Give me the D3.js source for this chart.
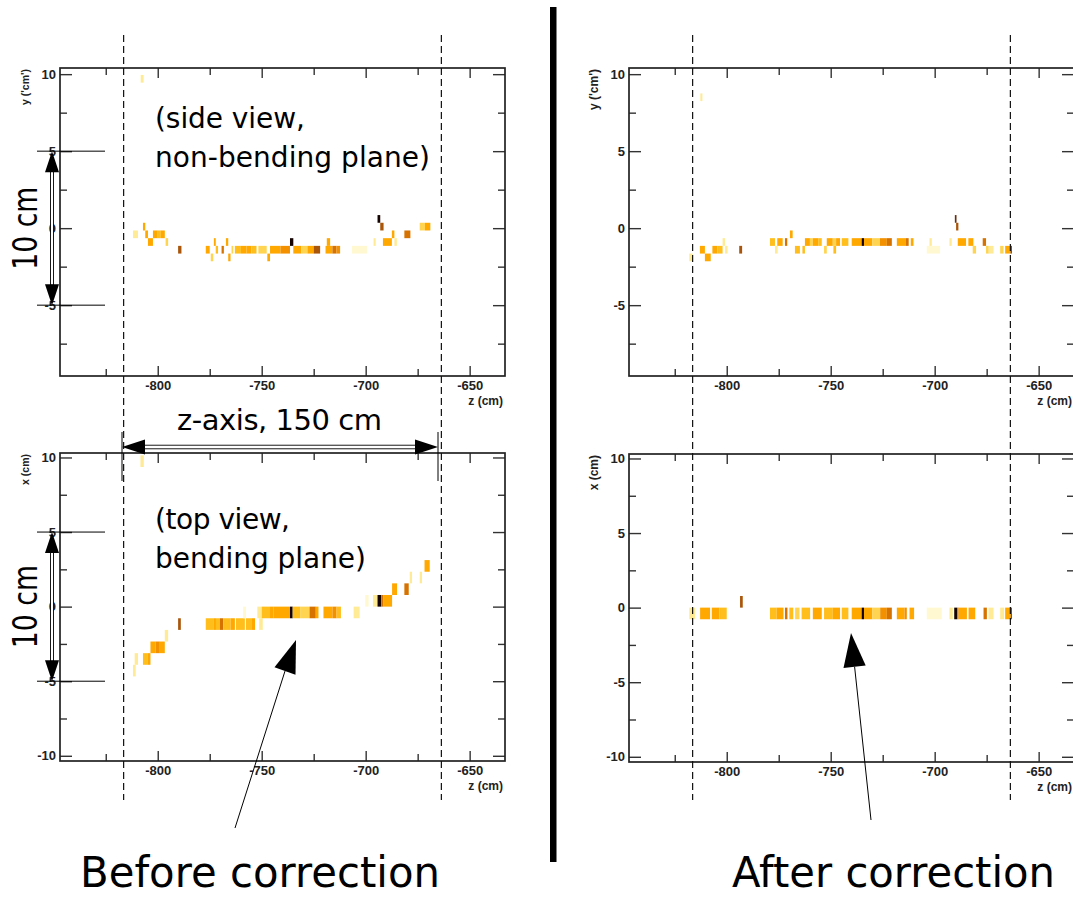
<!DOCTYPE html>
<html>
<head>
<meta charset="utf-8">
<script src="https://cdn.jsdelivr.net/npm/d3@7"></script>
<style>
body { margin: 0; background: #fff; }
svg { display: block; }
</style>
</head>
<body>
<script>
// hit cells: [z start, z end, y (or x) bin centre, charge level 1..10]
var sideBefore = [
  [-808.2, -806.8, 9.7, 2],
  [-811.9, -809.5, -0.4, 2], [-807.1, -806.0, 0.1, 5], [-806.0, -804.7, -0.4, 5],
  [-804.7, -802.3, -0.9, 5], [-802.3, -800.0, -0.4, 5], [-800.0, -798.5, -0.4, 4],
  [-798.5, -796.6, -0.4, 5], [-796.2, -795.0, -0.9, 3], [-790.2, -788.6, -1.4, 8],
  [-776.9, -775.0, -1.4, 5], [-774.5, -773.3, -1.9, 3], [-773.0, -772.1, -0.9, 5],
  [-772.1, -771.0, -1.4, 4], [-769.3, -768.2, -1.4, 7], [-767.2, -766.1, -0.9, 5],
  [-766.1, -765.0, -1.9, 5], [-764.5, -763.7, -1.4, 3], [-762.9, -760.0, -1.4, 4],
  [-760.0, -757.3, -1.4, 5], [-757.3, -755.0, -1.4, 5], [-755.0, -752.5, -1.4, 4],
  [-751.6, -747.6, -1.4, 3], [-747.3, -746.0, -1.9, 5], [-746.0, -741.0, -1.4, 5],
  [-741.0, -736.4, -1.4, 6], [-736.4, -734.8, -0.9, 10], [-734.8, -731.0, -1.4, 5],
  [-731.0, -728.0, -1.4, 3], [-728.0, -725.0, -1.4, 5], [-725.0, -721.9, -1.4, 8],
  [-718.7, -717.1, -0.9, 5], [-719.3, -716.0, -1.4, 5], [-716.0, -714.0, -1.4, 7],
  [-714.0, -712.3, -1.4, 6], [-706.6, -699.4, -1.4, 1], [-696.2, -695.2, -0.9, 2],
  [-694.3, -693.0, 0.6, 10], [-693.0, -691.4, 0.1, 8], [-691.7, -687.4, -0.9, 5],
  [-687.4, -686.2, -0.4, 5], [-686.2, -685.0, -0.9, 2], [-681.4, -678.5, -0.4, 7],
  [-674.0, -671.5, 0.1, 3], [-671.5, -668.9, 0.1, 5]
];

var sideAfter = [
  [-812.7, -811.7, 8.5, 2],
  [-818.0, -816.4, -1.9, 2], [-810.5, -807.7, -1.9, 5], [-812.9, -810.5, -1.4, 5],
  [-806.9, -804.5, -1.4, 5], [-804.5, -802.0, -1.4, 4], [-802.0, -800.8, -0.9, 2],
  [-800.8, -799.6, -1.4, 2], [-794.0, -792.6, -1.4, 8], [-779.2, -776.8, -0.9, 4],
  [-776.8, -775.5, -1.4, 2], [-775.7, -773.1, -0.9, 5], [-772.0, -770.9, -0.9, 7],
  [-769.6, -768.3, -0.4, 5], [-767.2, -764.8, -1.4, 4], [-763.6, -762.4, -1.4, 4],
  [-762.4, -760.0, -0.9, 5], [-760.0, -758.6, -0.9, 3], [-758.6, -756.0, -0.9, 5],
  [-756.0, -754.3, -0.9, 4], [-753.2, -751.9, -1.4, 3], [-751.9, -749.0, -0.9, 5],
  [-749.0, -747.4, -0.9, 3], [-748.7, -747.4, -1.4, 4], [-747.4, -745.5, -0.9, 5],
  [-744.7, -741.5, -0.9, 4], [-739.9, -735.1, -0.9, 5], [-735.1, -734.0, -0.9, 10],
  [-734.0, -730.0, -0.9, 5], [-730.0, -726.3, -0.9, 3], [-726.3, -723.0, -0.9, 6],
  [-723.0, -720.6, -0.9, 7], [-718.2, -714.0, -0.9, 5], [-714.0, -712.5, -0.9, 7],
  [-711.5, -710.2, -0.9, 5], [-703.8, -697.4, -1.4, 1], [-702.5, -701.4, -0.9, 2],
  [-692.9, -691.8, -0.9, 2], [-690.3, -689.5, 0.6, 9], [-689.7, -688.6, 0.1, 8],
  [-688.9, -684.9, -0.9, 5], [-683.8, -681.4, -0.9, 5], [-681.7, -680.1, -1.4, 3],
  [-676.9, -675.3, -0.9, 7], [-675.3, -674.0, -1.4, 3], [-674.0, -671.7, -1.4, 2],
  [-668.5, -666.9, -1.4, 3], [-666.1, -663.5, -1.4, 5], [-663.5, -662.9, -1.4, 9]
];

var topBefore = [
  [-808.3, -806.7, 9.75, 2],
  [-811.9, -810.6, -4.29, 2], [-811.1, -809.5, -3.51, 2], [-807.1, -805.0, -3.51, 4],
  [-805.0, -803.5, -3.51, 5], [-803.5, -801.0, -2.73, 5], [-801.0, -799.0, -2.73, 6],
  [-799.0, -796.6, -2.73, 5], [-796.6, -795.0, -1.95, 2], [-790.2, -788.9, -1.17, 8],
  [-776.9, -773.0, -1.17, 4], [-773.0, -772.0, -1.17, 5], [-772.0, -770.1, -1.17, 4],
  [-770.1, -768.5, -1.17, 7], [-768.5, -765.0, -1.17, 4], [-765.0, -762.9, -1.17, 5],
  [-762.4, -758.1, -1.17, 4], [-757.6, -755.0, -1.17, 4], [-755.0, -753.2, -1.17, 5],
  [-751.2, -749.5, -1.17, 2], [-758.9, -757.6, -0.39, 1], [-752.1, -750.0, -0.39, 2],
  [-750.0, -746.0, -0.39, 4], [-746.0, -744.4, -0.39, 5], [-744.4, -736.4, -0.39, 5],
  [-736.4, -735.1, -0.39, 10], [-735.1, -731.5, -0.39, 4], [-731.5, -727.0, -0.39, 3],
  [-727.0, -724.0, -0.39, 7], [-724.0, -722.7, -0.39, 5], [-720.3, -716.0, -0.39, 5],
  [-716.0, -714.0, -0.39, 6], [-714.0, -711.9, -0.39, 4], [-705.8, -702.9, -0.39, 2],
  [-700.2, -698.6, 0.39, 1], [-696.5, -694.3, 0.39, 2], [-694.3, -692.5, 0.39, 10],
  [-692.5, -691.4, 0.39, 7], [-691.4, -687.3, 0.39, 5], [-687.3, -684.9, 1.17, 5],
  [-681.4, -679.3, 1.17, 7], [-678.8, -677.7, 1.95, 2], [-674.0, -672.9, 1.95, 2],
  [-671.7, -669.2, 2.73, 5]
];

var topAfter = [
  [-818.0, -815.2, -0.39, 2], [-812.8, -808.0, -0.39, 5], [-807.2, -803.5, -0.39, 5],
  [-803.5, -800.0, -0.39, 4], [-793.6, -792.3, 0.39, 8], [-779.2, -776.0, -0.39, 4],
  [-776.0, -772.7, -0.39, 5], [-772.0, -770.8, -0.39, 7], [-769.9, -768.0, -0.39, 4],
  [-767.1, -765.0, -0.39, 3], [-764.0, -759.9, -0.39, 4], [-758.6, -754.3, -0.39, 5],
  [-753.2, -749.0, -0.39, 4], [-749.0, -745.5, -0.39, 5], [-744.7, -741.5, -0.39, 4],
  [-739.9, -735.1, -0.39, 5], [-735.1, -734.0, -0.39, 10], [-734.0, -730.0, -0.39, 5],
  [-730.0, -726.2, -0.39, 3], [-726.2, -723.0, -0.39, 6], [-723.0, -720.6, -0.39, 7],
  [-718.2, -714.5, -0.39, 5], [-714.5, -713.4, -0.39, 6], [-712.1, -709.9, -0.39, 5],
  [-703.8, -696.6, -0.39, 1], [-692.9, -691.3, -0.39, 2], [-690.6, -689.2, -0.39, 10],
  [-689.2, -688.5, -0.39, 7], [-688.5, -684.5, -0.39, 5], [-683.7, -680.5, -0.39, 5],
  [-676.5, -674.9, -0.39, 7], [-674.1, -671.7, -0.39, 2], [-668.5, -666.6, -0.39, 2],
  [-666.1, -663.4, -0.39, 5], [-663.4, -662.9, -0.39, 9]
];

var levels = [1, 2, 3, 4, 5, 6, 7, 8, 9, 10];
var palette = ['#fff8d0', '#ffeb96', '#ffd450', '#ffbe1c', '#ffa800', '#f39000', '#d67300', '#a9560a', '#6a2c0c', '#140300'];

var zDomain = [-847, -633];
var zTicks = [-800, -750, -700, -650];
var zMinor = [-825, -775, -725, -675];
var boundaries = [-816.4, -663.6];

var sideTicks = [10, 5, 0, -5];
var topTicks = [10, 5, 0, -5, -10];
var yMinor = [7.5, 2.5, -2.5, -7.5];

var width = 1073, height = 898;
var svg = d3.select('body').append('svg')
            .attr('width', width)
            .attr('height', height);

var color = d3.scaleLinear().domain(levels).range(palette);

var panels = [
  {left: 60,  top: 68,  h: 308, ydom: [-9.6, 10.4],   ticks: sideTicks, title: "y ('cm')", tsize: 10.5, cells: sideBefore, bin: 0.5},
  {left: 60,  top: 453, h: 308, ydom: [-10.35, 10.3], ticks: topTicks,  title: 'x (cm)',   tsize: 10.5, cells: topBefore,  bin: 0.78},
  {left: 629, top: 68,  h: 308, ydom: [-9.6, 10.4],   ticks: sideTicks, title: "y ('cm')", tsize: 12, cells: sideAfter,  bin: 0.5},
  {left: 629, top: 454, h: 308, ydom: [-10.35, 10.3], ticks: topTicks,  title: 'x (cm)',   tsize: 12, cells: topAfter,   bin: 0.78}
];

var pw = 445;

panels.forEach(drawPanel);

function styleAxis(g) {
  g.select('.domain').remove();
  g.selectAll('line').attr('stroke', '#333').attr('stroke-width', 1.4);
  g.selectAll('text')
   .attr('font-family', '"Liberation Sans", Arial, sans-serif')
   .attr('font-weight', 'bold')
   .attr('font-size', 13)
   .attr('fill', '#222');
}

function drawPanel(p) {
  var x = d3.scaleLinear().domain(zDomain).range([0, pw]);
  var y = d3.scaleLinear().domain(p.ydom).range([p.h, 0]);
  p.x = x; p.y = y;

  var g = svg.append('g').attr('transform', `translate(${p.left},${p.top})`);

  g.append('g').selectAll('rect').data(p.cells)
    .enter().append('rect')
      .attr('x', d => x(d[0]))
      .attr('width', d => x(d[1]) - x(d[0]))
      .attr('y', d => y(d[2] + p.bin / 2))
      .attr('height', d => y(d[2] - p.bin / 2) - y(d[2] + p.bin / 2))
      .attr('fill', d => color(d[3]));

  var fmt = d => String(d);

  g.append('g').call(d3.axisLeft(y).tickValues(p.ticks).tickSize(-12).tickPadding(4).tickFormat(fmt)).call(styleAxis);
  g.append('g').call(d3.axisLeft(y).tickValues(yMinor).tickSize(-7).tickFormat('')).call(styleAxis);
  g.append('g').attr('transform', `translate(${pw},0)`)
    .call(d3.axisRight(y).tickValues(p.ticks).tickSize(-12).tickFormat('')).call(styleAxis);
  g.append('g').attr('transform', `translate(${pw},0)`)
    .call(d3.axisRight(y).tickValues(yMinor).tickSize(-7).tickFormat('')).call(styleAxis);

  g.append('g').attr('transform', `translate(0,${p.h})`)
    .call(d3.axisBottom(x).tickValues(zTicks).tickSize(-10).tickPadding(5).tickFormat(fmt)).call(styleAxis);
  g.append('g').attr('transform', `translate(0,${p.h})`)
    .call(d3.axisBottom(x).tickValues(zMinor).tickSize(-7).tickFormat('')).call(styleAxis);
  g.append('g').call(d3.axisTop(x).tickValues(zTicks).tickSize(-10).tickFormat('')).call(styleAxis);
  g.append('g').call(d3.axisTop(x).tickValues(zMinor).tickSize(-7).tickFormat('')).call(styleAxis);

  g.append('rect')
    .attr('width', pw).attr('height', p.h)
    .attr('fill', 'none').attr('stroke', '#222').attr('stroke-width', 1.7);

  g.append('text')
    .attr('transform', `translate(-31,1) rotate(-90)`)
    .attr('text-anchor', 'end')
    .attr('font-family', '"Liberation Sans", Arial, sans-serif')
    .attr('font-weight', 'bold').attr('font-size', p.tsize).attr('fill', '#222')
    .text(p.title);

  g.append('text')
    .attr('x', pw - 2).attr('y', p.h + 29)
    .attr('text-anchor', 'end')
    .attr('font-family', '"Liberation Sans", Arial, sans-serif')
    .attr('font-weight', 'bold').attr('font-size', 12).attr('fill', '#222')
    .text('z (cm)');
}

// detector boundaries, dashed, through both views
[panels[0], panels[2]].forEach(function(p) {
  svg.append('g').selectAll('line').data(boundaries)
    .enter().append('line')
      .attr('x1', d => p.left + p.x(d)).attr('x2', d => p.left + p.x(d))
      .attr('y1', 35).attr('y2', 800)
      .attr('stroke', '#111').attr('stroke-width', 1.2)
      .attr('stroke-dasharray', '7,4');
});

// separator
svg.append('rect').attr('x', 550).attr('y', 7).attr('width', 6.5).attr('height', 855).attr('fill', '#000');

var ann = svg.append('g').attr('class', 'annotations');
var font = '"DejaVu Sans", "Noto Sans", sans-serif';

function label(txt, x, y, size, len, squeeze) {
  ann.append('text')
    .attr('x', x).attr('y', y)
    .attr('font-family', font).attr('font-size', size)
    .attr('textLength', len)
    .attr('lengthAdjust', squeeze ? 'spacingAndGlyphs' : 'spacing')
    .attr('fill', '#000')
    .text(txt);
}

function vArrow(p) {
  var y1 = p.top + p.y(5), y2 = p.top + p.y(-5), xa = 52;
  ann.append('line').attr('x1', 37).attr('x2', 105).attr('y1', y1).attr('y2', y1).attr('stroke', '#000');
  ann.append('line').attr('x1', 37).attr('x2', 105).attr('y1', y2).attr('y2', y2).attr('stroke', '#000');
  ann.append('rect').attr('x', xa - 1.5).attr('width', 3).attr('y', y1 + 20).attr('height', y2 - y1 - 40)
    .attr('fill', '#fff').attr('stroke', '#000').attr('stroke-width', 0.9);
  ann.append('path').attr('d', `M${xa},${y1} L${xa - 7},${y1 + 21} L${xa + 7},${y1 + 21} Z`).attr('fill', '#000');
  ann.append('path').attr('d', `M${xa},${y2} L${xa - 7},${y2 - 21} L${xa + 7},${y2 - 21} Z`).attr('fill', '#000');
  ann.append('text')
    .attr('transform', `translate(37,${(y1 + y2) / 2}) rotate(-90)`)
    .attr('text-anchor', 'middle')
    .attr('font-family', font).attr('font-size', 33)
    .attr('textLength', 83).attr('lengthAdjust', 'spacingAndGlyphs')
    .text('10 cm');
}
vArrow(panels[0]);
vArrow(panels[1]);

// z-axis length arrow
var xa1 = 122, xa2 = 438, ya = 447;
ann.append('line').attr('x1', xa1).attr('x2', xa1).attr('y1', 432).attr('y2', 481).attr('stroke', '#000');
ann.append('line').attr('x1', xa2).attr('x2', xa2).attr('y1', 432).attr('y2', 481).attr('stroke', '#000');
ann.append('rect').attr('x', xa1 + 22).attr('width', xa2 - xa1 - 44).attr('y', ya - 1.8).attr('height', 3.6)
  .attr('fill', '#fff').attr('stroke', '#000').attr('stroke-width', 0.9);
ann.append('path').attr('d', `M${xa1},${ya} L${xa1 + 23},${ya - 7.5} L${xa1 + 23},${ya + 7.5} Z`).attr('fill', '#000');
ann.append('path').attr('d', `M${xa2},${ya} L${xa2 - 23},${ya - 7.5} L${xa2 - 23},${ya + 7.5} Z`).attr('fill', '#000');

label('z-axis, 150 cm', 177, 430, 29, 205);
label('(side view,', 155, 128, 28, 150);
label('non-bending plane)', 155, 167, 28, 275);
label('(top view,', 155, 529, 28, 135);
label('bending plane)', 155, 568, 28, 211);

// pointers to the track
function pointer(x0, y0, tip, b1, b2) {
  ann.append('line').attr('x1', x0).attr('y1', y0)
    .attr('x2', (b1[0] + b2[0]) / 2).attr('y2', (b1[1] + b2[1]) / 2)
    .attr('stroke', '#000').attr('stroke-width', 1);
  ann.append('path').attr('d', `M${tip} L${b1} L${b2} Z`).attr('fill', '#000');
}
pointer(235, 828, [296, 640], [274.5, 667.3], [295.5, 674.8]);
pointer(871, 820, [851, 633], [843.5, 668], [865.7, 665.5]);

label('Before correction', 80, 887, 42, 360, true);
label('After correction', 732, 887, 42, 323, true);
</script>
</body>
</html>
